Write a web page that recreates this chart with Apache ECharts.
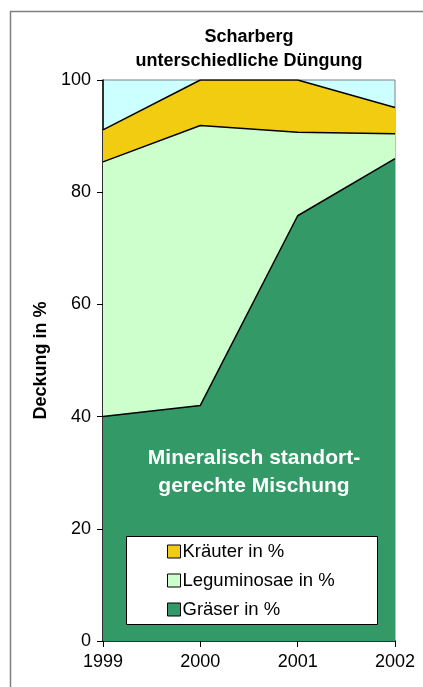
<!DOCTYPE html>
<html>
<head>
<meta charset="utf-8">
<script src="https://cdn.jsdelivr.net/npm/echarts@6/dist/echarts.min.js"></script>
<style>
  html, body { margin: 0; padding: 0; background: #fff; }
  #chart { width: 423px; height: 687px; }
</style>
</head>
<body>
<div id="chart"></div>
<script>
const years = ["1999", "2000", "2001", "2002"];
const graeser = [40, 42, 75.8, 86];
const leguminosae = [45.4, 49.9, 14.9, 4.4];
const kraeuter = [5.7, 8.1, 9.3, 4.7];
const yTicks = { min: 0, max: 100, interval: 20 };

const FONT = "'Liberation Sans', Arial, sans-serif";

function areaSeries(name, data, color) {
  return {
    name,
    type: "line",
    stack: "total",
    data,
    symbol: "none",
    itemStyle: { color },
    lineStyle: { color: "#000", width: 1.5 },
    areaStyle: { color, opacity: 1 }
  };
}

const chart = echarts.init(document.getElementById("chart"), null, { renderer: "canvas" });

chart.setOption({
  animation: false,
  backgroundColor: "#fff",
  textStyle: { fontFamily: FONT },
  grid: {
    left: 103,
    right: 28,
    top: 80,
    bottom: 46,
    show: true,
    borderColor: "#808080",
    borderWidth: 1,
    backgroundColor: "#CCFFFF"
  },
  xAxis: {
    type: "category",
    data: years,
    boundaryGap: false,
    axisLine: { lineStyle: { color: "#000", width: 1.5 } },
    axisTick: { inside: false, length: 6, lineStyle: { color: "#000" } },
    axisLabel: { color: "#000", fontSize: 18, margin: 12, fontFamily: FONT },
    splitLine: { show: false }
  },
  yAxis: {
    type: "value",
    min: yTicks.min,
    max: yTicks.max,
    interval: yTicks.interval,
    name: "Deckung in %",
    nameLocation: "middle",
    nameGap: 51,
    nameTextStyle: { color: "#000", fontSize: 18, fontWeight: "bold", fontFamily: FONT },
    axisLine: { show: true, lineStyle: { color: "#000", width: 1.5 } },
    axisTick: { show: true, inside: false, length: 6, lineStyle: { color: "#000" } },
    axisLabel: { color: "#000", fontSize: 18, margin: 12, fontFamily: FONT },
    splitLine: { show: false }
  },
  legend: {
    orient: "vertical",
    left: 162,
    top: 537,
    z: 20,
    itemGap: 10,
    itemWidth: 13,
    itemHeight: 13,
    icon: "rect",
    itemStyle: { borderColor: "#000", borderWidth: 1 },
    textStyle: { color: "#000", fontSize: 18.5, fontFamily: FONT, padding: [0, 0, 0, -3] },
    data: ["Kräuter in %", "Leguminosae in %", "Gräser in %"]
  },
  graphic: [
    {
      type: "rect",
      z: -10,
      shape: { x: 10.5, y: 11.5, width: 500, height: 700 },
      style: { fill: null, stroke: "#808080", lineWidth: 1.5 }
    },
    {
      type: "text",
      z: 10,
      x: 249,
      y: 37,
      style: {
        text: "Scharberg",
        fill: "#000",
        font: "bold 18px " + FONT,
        align: "center",
        verticalAlign: "middle"
      }
    },
    {
      type: "text",
      z: 10,
      x: 249,
      y: 61,
      style: {
        text: "unterschiedliche Düngung",
        fill: "#000",
        font: "bold 18px " + FONT,
        align: "center",
        verticalAlign: "middle"
      }
    },
    {
      type: "text",
      z: 10,
      x: 254,
      y: 458,
      style: {
        text: "Mineralisch standort-",
        fill: "#fff",
        font: "bold 21px " + FONT,
        align: "center",
        verticalAlign: "middle"
      }
    },
    {
      type: "text",
      z: 10,
      x: 254,
      y: 486,
      style: {
        text: "gerechte Mischung",
        fill: "#fff",
        font: "bold 21px " + FONT,
        align: "center",
        verticalAlign: "middle"
      }
    },
    {
      type: "rect",
      z: 10,
      shape: { x: 126.5, y: 536.5, width: 251, height: 88 },
      style: { fill: "#fff", stroke: "#000", lineWidth: 1 }
    }
  ],
  series: [
    areaSeries("Gräser in %", graeser, "#339966"),
    areaSeries("Leguminosae in %", leguminosae, "#CCFFCC"),
    areaSeries("Kräuter in %", kraeuter, "#F2CC10")
  ]
});
</script>
</body>
</html>
